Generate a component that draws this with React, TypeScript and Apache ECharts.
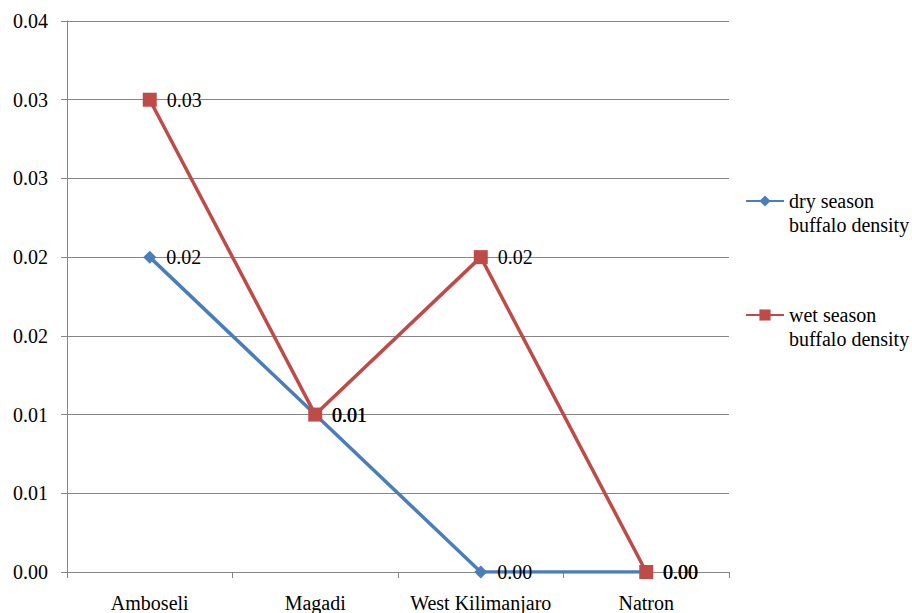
import React, { useEffect, useRef } from "react";
import * as echarts from "echarts";

const categories = ["Amboseli", "Magadi", "West Kilimanjaro", "Natron"];
const dryValues = [0.02, 0.01, 0.0, 0.0];
const wetValues = [0.03, 0.01, 0.02, 0.0];
const yTickLabels = ["0.00", "0.01", "0.01", "0.02", "0.02", "0.03", "0.03", "0.04"];
const seriesNames = ["dry season\nbuffalo density", "wet season\nbuffalo density"];

const FONT = "Times New Roman, Liberation Serif, serif";
const BLUE = "#4a7ebb";
const RED = "#be4b48";
const GRID = "#868686";

export default function App() {
  const ref = useRef<HTMLDivElement>(null);
  useEffect(() => {
    if (!ref.current) return;
    const chart = echarts.init(ref.current, undefined, { renderer: "svg" });
    const labelCfg = {
      show: true,
      position: "right",
      distance: 10,
      color: "#000",
      fontFamily: FONT,
      fontSize: 20,
      formatter: (p: any) => Number(p.value).toFixed(2),
    };
    const legendText = {
      fontFamily: FONT,
      fontSize: 20,
      color: "#000",
      lineHeight: 24,
    };
    const legendBase = {
      orient: "vertical",
      left: 740,
      itemWidth: 38,
      itemHeight: 14,
      itemGap: 5,
      textStyle: legendText,
      formatter: (name: string) => "\n" + name,
    };
    chart.setOption({
      animation: false,
      backgroundColor: "#fff",
      textStyle: { fontFamily: FONT },
      grid: { left: 67, right: 183, top: 21, bottom: 36, containLabel: false },
      legend: [
        { ...legendBase, data: [seriesNames[0]], top: 160 },
        { ...legendBase, data: [seriesNames[1]], top: 274 },
      ],
      xAxis: {
        type: "category",
        data: categories,
        boundaryGap: true,
        axisLine: { lineStyle: { color: GRID, width: 1 } },
        axisTick: { show: true, length: 6, lineStyle: { color: GRID } },
        axisLabel: { color: "#000", fontFamily: FONT, fontSize: 20, margin: 21, interval: 0 },
        splitLine: { show: false },
      },
      yAxis: {
        type: "value",
        min: 0,
        max: 0.035,
        interval: 0.005,
        axisLine: { show: true, lineStyle: { color: GRID, width: 1 } },
        axisTick: { show: true, length: 6, lineStyle: { color: GRID } },
        axisLabel: {
          color: "#000",
          fontFamily: FONT,
          fontSize: 20,
          margin: 19,
          formatter: (_v: number, i: number) => yTickLabels[i],
        },
        splitLine: { show: true, lineStyle: { color: GRID, width: 1 } },
      },
      series: [
        {
          name: seriesNames[0],
          type: "line",
          data: dryValues,
          color: BLUE,
          symbol: "diamond",
          symbolSize: 13,
          lineStyle: { width: 3.5, color: BLUE },
          itemStyle: { color: BLUE },
          label: labelCfg,
        },
        {
          name: seriesNames[1],
          type: "line",
          data: wetValues,
          color: RED,
          symbol: "rect",
          symbolSize: 14,
          lineStyle: { width: 3.5, color: RED },
          itemStyle: { color: RED },
          label: labelCfg,
        },
      ],
    });
    return () => chart.dispose();
  }, []);
  return <div ref={ref} style={{ width: 912, height: 613, position: "absolute", left: 0, top: 0 }} />;
}
